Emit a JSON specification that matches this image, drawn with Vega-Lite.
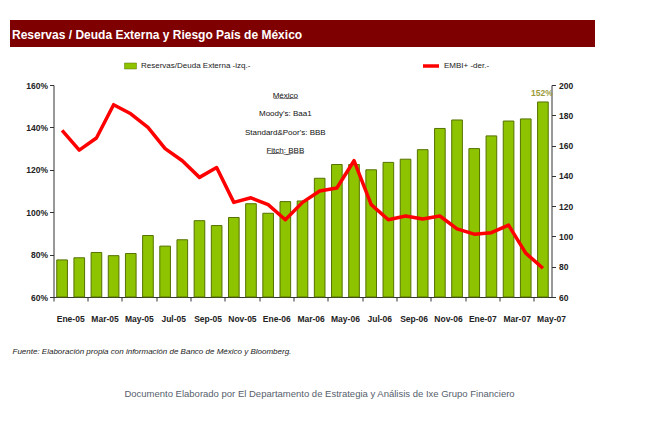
{
  "$schema": "https://vega.github.io/schema/vega-lite/v6.json",
  "background": "white",
  "padding": {"left": 10, "top": 20, "right": 0, "bottom": 0},
  "spacing": 38,
  "bounds": "flush",
  "center": true,
  "config": {
    "font": "Liberation Sans",
    "view": {"stroke": null},
    "axis": {"domainColor": "#333", "tickColor": "#333", "labelColor": "#222", "labelFont": "Liberation Sans", "labelFontSize": 8.5, "labelFontWeight": "bold", "grid": false, "tickSize": 4}
  },
  "vconcat": [
    {
      "width": 585,
      "height": 27,
      "view": {"fill": "#7f0000", "stroke": null},
      "data": {"values": [{"titulo": "Reservas / Deuda Externa y Riesgo País de México"}]},
      "mark": {"type": "text", "align": "left", "baseline": "middle", "dx": -290.5, "dy": 1, "color": "white", "font": "Liberation Sans", "fontSize": 12, "fontWeight": "bold"},
      "encoding": {"text": {"field": "titulo", "type": "nominal"}}
    },
    {
      "width": 498,
      "height": 212,
      "title": {"text": "Documento Elaborado por El Departamento de Estrategia y Análisis de Ixe Grupo Financiero", "orient": "bottom", "anchor": "middle", "frame": "group", "offset": 34, "dx": 17, "color": "#56606c", "font": "Liberation Sans", "fontSize": 9.5, "fontWeight": "normal"},
      "data": {"values": [
        {"mes": "Ene-05", "reservas": 0.775, "embi": 170},
        {"mes": "Feb-05", "reservas": 0.785, "embi": 157},
        {"mes": "Mar-05", "reservas": 0.81, "embi": 165},
        {"mes": "Abr-05", "reservas": 0.795, "embi": 187},
        {"mes": "May-05", "reservas": 0.805, "embi": 181},
        {"mes": "Jun-05", "reservas": 0.89, "embi": 172},
        {"mes": "Jul-05", "reservas": 0.84, "embi": 158},
        {"mes": "Ago-05", "reservas": 0.87, "embi": 150},
        {"mes": "Sep-05", "reservas": 0.96, "embi": 139},
        {"mes": "Oct-05", "reservas": 0.937, "embi": 145.5},
        {"mes": "Nov-05", "reservas": 0.975, "embi": 122.5},
        {"mes": "Dic-05", "reservas": 1.04, "embi": 125.5},
        {"mes": "Ene-06", "reservas": 0.995, "embi": 121},
        {"mes": "Feb-06", "reservas": 1.05, "embi": 111},
        {"mes": "Mar-06", "reservas": 1.053, "embi": 122.5},
        {"mes": "Abr-06", "reservas": 1.16, "embi": 130},
        {"mes": "May-06", "reservas": 1.225, "embi": 132},
        {"mes": "Jun-06", "reservas": 1.225, "embi": 150},
        {"mes": "Jul-06", "reservas": 1.2, "embi": 121},
        {"mes": "Ago-06", "reservas": 1.235, "embi": 111},
        {"mes": "Sep-06", "reservas": 1.25, "embi": 113.5},
        {"mes": "Oct-06", "reservas": 1.295, "embi": 111.5},
        {"mes": "Nov-06", "reservas": 1.395, "embi": 113.5},
        {"mes": "Dic-06", "reservas": 1.435, "embi": 105},
        {"mes": "Ene-07", "reservas": 1.3, "embi": 101.5},
        {"mes": "Feb-07", "reservas": 1.36, "embi": 102.5},
        {"mes": "Mar-07", "reservas": 1.43, "embi": 107.5},
        {"mes": "Abr-07", "reservas": 1.44, "embi": 89},
        {"mes": "May-07", "reservas": 1.52, "embi": 79}
      ]},
      "encoding": {
        "x": {"field": "mes", "type": "ordinal", "sort": null,
          "scale": {"paddingInner": 0, "paddingOuter": 0},
          "axis": {"title": "Fuente: Elaboración propia con información de Banco de México y Bloomberg.",
            "values": ["Ene-05", "Mar-05", "May-05", "Jul-05", "Sep-05", "Nov-05", "Ene-06", "Mar-06", "May-06", "Jul-06", "Sep-06", "Nov-06", "Ene-07", "Mar-07", "May-07"],
            "bandPosition": 0, "labelOffset": 8.6, "labelAngle": 0, "labelPadding": 13, "labelFontSize": 8.5,
            "titleX": -41.5, "titleY": 54, "titleAlign": "left", "titleBaseline": "middle", "titleFontStyle": "italic", "titleFontWeight": "normal", "titleFontSize": 8, "titleColor": "#222", "titleFont": "Liberation Sans"}}
      },
      "layer": [
        {
          "layer": [
            {
              "mark": {"type": "bar", "width": {"band": 0.62}, "stroke": "#567200", "strokeWidth": 1},
              "encoding": {
                "y": {"field": "reservas", "type": "quantitative", "scale": {"domain": [0.6, 1.6], "zero": false, "nice": false},
                  "axis": {"title": null, "format": ".0%", "values": [0.6, 0.7, 0.8, 0.9, 1.0, 1.1, 1.2, 1.3, 1.4, 1.5, 1.6], "labelPadding": 2}},
                "y2": {"datum": 0.6},
                "fill": {"datum": "Reservas/Deuda Externa -izq.-", "type": "nominal", "scale": {"range": ["#8ec300"]},
                  "legend": {"title": null, "orient": "none", "legendX": 71.5, "legendY": -24.5, "padding": 0,
                    "symbolType": "M-1.2,-0.6H1.2V0.6H-1.2Z", "symbolSize": 100, "symbolStrokeColor": "#567200", "symbolStrokeWidth": 0.5,
                    "labelFont": "Liberation Sans", "labelFontSize": 8, "labelColor": "#222", "labelOffset": 5}}
              }
            },
            {
              "transform": [{"filter": "datum.mes == 'May-07'"}],
              "mark": {"type": "text", "dy": -9, "dx": -1, "color": "#9d9a3a", "fontSize": 8.5, "font": "Liberation Sans", "fontWeight": "bold"},
              "encoding": {
                "y": {"field": "reservas", "type": "quantitative"},
                "text": {"field": "reservas", "type": "quantitative", "format": ".0%"}
              }
            },
            {
              "data": {"values": [{"nota": ["M̲é̲x̲i̲c̲o̲", "Moody's: Baa1", "Standard&Poor's: BBB", "F̲i̲t̲c̲h̲:̲ ̲B̲B̲B̲"]}]},
              "mark": {"type": "text", "baseline": "top", "align": "center", "dy": 7, "lineHeight": 18.3, "fontSize": 8, "color": "#111", "font": "Liberation Sans"},
              "encoding": {
                "x": {"datum": "Feb-06"},
                "y": {"datum": 1.6},
                "text": {"field": "nota", "type": "nominal"}
              }
            }
          ]
        },
        {
          "mark": {"type": "line", "strokeWidth": 3.5, "strokeJoin": "round"},
          "encoding": {
            "y": {"field": "embi", "type": "quantitative", "scale": {"domain": [60, 200], "zero": false, "nice": false},
              "axis": {"title": null, "orient": "right", "values": [60, 80, 100, 120, 140, 160, 180, 200], "labelPadding": 3}},
            "stroke": {"datum": "EMBI+ -der.-", "type": "nominal", "scale": {"range": ["#ff0000"]},
              "legend": {"title": null, "orient": "none", "legendX": 367.5, "legendY": -29, "padding": 0,
                "symbolType": "stroke", "symbolSize": 256, "symbolStrokeWidth": 3.5,
                "labelFont": "Liberation Sans", "labelFontSize": 8, "labelColor": "#222", "labelOffset": 3}}
          }
        }
      ],
      "resolve": {"scale": {"y": "independent", "fill": "independent", "stroke": "independent"}}
    }
  ]
}
